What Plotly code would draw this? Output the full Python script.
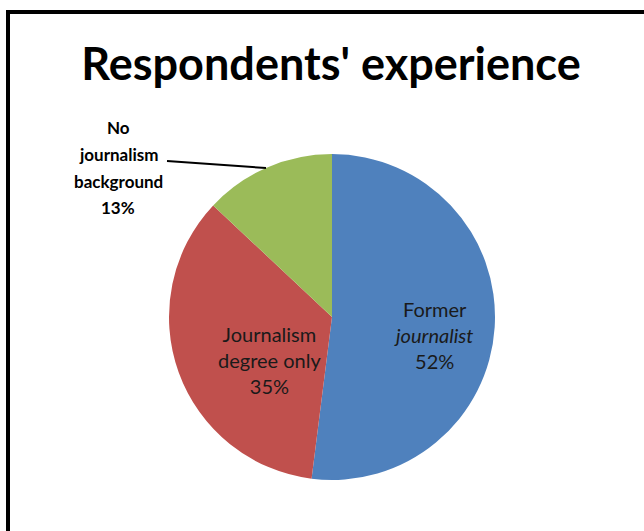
import plotly.graph_objects as go

W, H = 644, 531

title_text = "Respondents' experience"
labels = ["Former journalist", "Journalism degree only", "No journalism background"]
label_lines = [["Former", "<i>journalist</i>"], ["Journalism", "degree only"], ["No", "journalism", "background"]]
values = [52, 35, 13]
colors = ["#4F81BD", "#C0504D", "#9BBB59"]

def px(x):
    return x / W

def py(y):
    return 1 - y / H

cx, cy, r = 332, 317, 163

fig = go.Figure(go.Pie(
    labels=labels,
    values=values,
    sort=False,
    direction="clockwise",
    rotation=0,
    marker=dict(colors=colors, line=dict(width=0)),
    textinfo="none",
    hoverinfo="label+percent",
    showlegend=False,
    domain=dict(x=[px(cx - r), px(cx + r)], y=[py(cy + r), py(cy - r)]),
))

total = sum(values)
pct = [f"{round(v / total * 100)}%" for v in values]

inner_font = dict(family="Lato", size=20, color="#1a1a1a")
annotations = []
# inner labels
for i, (x, y) in zip([0, 1], [(433, 335), (269, 360)]):
    annotations.append(dict(
        x=px(x), y=py(y), xref="paper", yref="paper",
        text="<br>".join(label_lines[i] + [pct[i]]), showarrow=False, align="center",
        xanchor="center", yanchor="middle", font=inner_font,
    ))
# outer label, one line per annotation for wider spacing
outer_lines = label_lines[2] + [pct[2]]
for k, line in enumerate(outer_lines):
    annotations.append(dict(
        x=px(118), y=py(128 + 26.5 * k), xref="paper", yref="paper",
        text=f"<b>{line}</b>", showarrow=False, align="center",
        xanchor="center", yanchor="middle",
        font=dict(family="Lato", size=17, color="#000000"),
    ))

shapes = [
    dict(type="line", xref="paper", yref="paper", x0=px(6), x1=px(W + 5), y0=py(12), y1=py(12),
         line=dict(color="black", width=4)),
    dict(type="line", xref="paper", yref="paper", x0=px(8), x1=px(8), y0=py(10), y1=py(H + 5),
         line=dict(color="black", width=4)),
    dict(type="line", xref="paper", yref="paper", x0=px(167), x1=px(266), y0=py(161), y1=py(168),
         line=dict(color="black", width=2)),
]

fig.update_layout(
    width=W, height=H,
    margin=dict(l=0, r=0, t=0, b=0),
    paper_bgcolor="white",
    plot_bgcolor="white",
    title=dict(text=f"<b>{title_text}</b>", x=px(331), y=py(64), xanchor="center", yanchor="middle",
               font=dict(family="Lato", size=45, color="black")),
    annotations=annotations,
    shapes=shapes,
)

fig.write_html("out.html")
